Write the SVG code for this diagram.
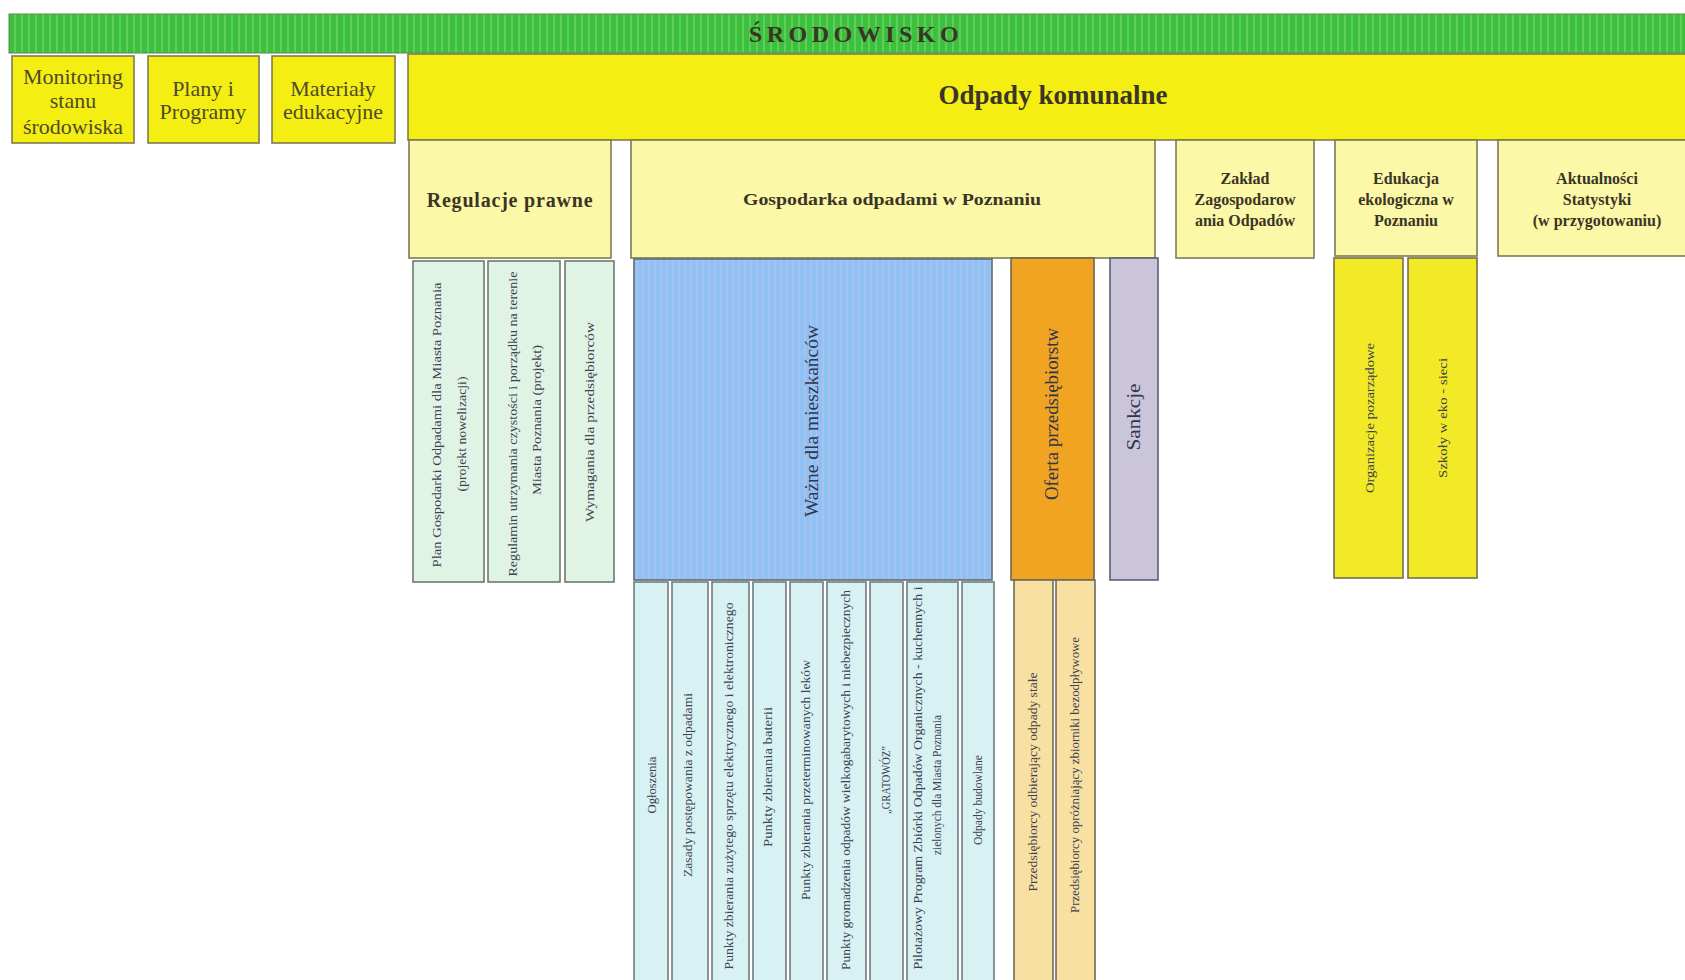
<svg xmlns="http://www.w3.org/2000/svg" width="1685" height="980" viewBox="0 0 1685 980">
<defs>
<pattern id="grn" width="7" height="40" patternUnits="userSpaceOnUse">
<rect width="7" height="40" fill="#3dc03d"/>
<rect x="0" width="2" height="40" fill="#5ecf5a"/>
</pattern>
<pattern id="blu" width="6" height="40" patternUnits="userSpaceOnUse">
<rect width="6" height="40" fill="#90c1f2"/>
<rect x="0" width="2" height="40" fill="#a6c2f0"/>
</pattern>
<style>
.y1{fill:#f4ee12;stroke:#7d7a55;stroke-width:1.6}
.y2{fill:#fbf8a8;stroke:#7d7a55;stroke-width:1.6}
.mint{fill:#e0f4e6;stroke:#6e7a70;stroke-width:1.6}
.cyan{fill:#d8f1f3;stroke:#707c80;stroke-width:1.6}
.or{fill:#f1a422;stroke:#6f6650;stroke-width:1.6}
.por{fill:#f8e0a2;stroke:#6f6a5a;stroke-width:1.6}
.lav{fill:#cbc5db;stroke:#5e6070;stroke-width:1.6}
.ye{fill:#f2ea26;stroke:#77704a;stroke-width:1.6}
.bl{fill:url(#blu);stroke:#5f6d70;stroke-width:1.6}
text{font-family:"Liberation Serif","Times New Roman",serif}
.h1{font-size:22px;fill:#4f4a2a;text-anchor:middle}
.hb{font-weight:bold;fill:#3a3525;text-anchor:middle}
.v{font-size:12px;fill:#3c4250;text-anchor:middle}
.vm{font-size:19px;fill:#2f3550;text-anchor:middle}
</style>
</defs>
<rect width="1685" height="980" fill="#ffffff"/>

<g id="srodowisko">
<rect x="9" y="14" width="1680" height="39" fill="url(#grn)" stroke="#5a8a4a" stroke-width="1"/>
<text x="856" y="42" class="hb" font-size="24" letter-spacing="4.5" fill="#3a3a3a">ŚRODOWISKO</text>
</g>

<g id="monitoring">
<rect class="y1" x="12" y="56" width="122" height="87"/>
<text class="h1" x="73" y="84">Monitoring</text>
<text class="h1" x="73" y="108">stanu</text>
<text class="h1" x="73" y="134">środowiska</text>
</g>
<g id="plany">
<rect class="y1" x="148" y="56" width="111" height="87"/>
<text class="h1" x="203" y="96">Plany i</text>
<text class="h1" x="203" y="119">Programy</text>
</g>
<g id="materialy">
<rect class="y1" x="272" y="56" width="123" height="87"/>
<text class="h1" x="333" y="96">Materiały</text>
<text class="h1" x="333" y="119">edukacyjne</text>
</g>
<g id="odpady">
<rect class="y1" x="408" y="54" width="1282" height="86" fill="#f5ef2a"/>
<text class="hb" x="1053" y="104" font-size="27">Odpady komunalne</text>
</g>

<g id="regulacje">
<rect class="y2" x="409" y="140" width="202" height="118"/>
<text class="hb" x="510" y="207" font-size="20" letter-spacing="0.8">Regulacje prawne</text>
</g>
<g id="gospodarka">
<rect class="y2" x="631" y="140" width="524" height="118"/>
<text class="hb" x="892" y="205" font-size="16" textLength="298" lengthAdjust="spacingAndGlyphs">Gospodarka odpadami w Poznaniu</text>
</g>
<g id="zaklad">
<rect class="y2" x="1176" y="140" width="138" height="118"/>
<text class="hb" x="1245" y="184" font-size="16">Zakład</text>
<text class="hb" x="1245" y="205" font-size="16">Zagospodarow</text>
<text class="hb" x="1245" y="226" font-size="16">ania Odpadów</text>
</g>
<g id="edukacja">
<rect class="y2" x="1335" y="140" width="142" height="116"/>
<text class="hb" x="1406" y="184" font-size="16">Edukacja</text>
<text class="hb" x="1406" y="205" font-size="16">ekologiczna w</text>
<text class="hb" x="1406" y="226" font-size="16">Poznaniu</text>
</g>
<g id="aktualnosci">
<rect class="y2" x="1498" y="140" width="192" height="116"/>
<text class="hb" x="1597" y="184" font-size="16">Aktualności</text>
<text class="hb" x="1597" y="205" font-size="16">Statystyki</text>
<text class="hb" x="1597" y="226" font-size="16">(w przygotowaniu)</text>
</g>

<g id="plan-gospodarki">
<rect class="mint" x="413" y="261" width="71" height="321"/>
<text class="v" transform="translate(441,425) rotate(-90)" textLength="285" lengthAdjust="spacingAndGlyphs">Plan Gospodarki Odpadami dla Miasta Poznania</text>
<text class="v" transform="translate(466,434) rotate(-90)" textLength="115" lengthAdjust="spacingAndGlyphs">(projekt nowelizacji)</text>
</g>
<g id="regulamin">
<rect class="mint" x="488" y="261" width="72" height="321"/>
<text class="v" transform="translate(517,424) rotate(-90)" textLength="305" lengthAdjust="spacingAndGlyphs">Regulamin utrzymania czystości i porządku na terenie</text>
<text class="v" transform="translate(541,420) rotate(-90)" textLength="150" lengthAdjust="spacingAndGlyphs">Miasta Poznania (projekt)</text>
</g>
<g id="wymagania">
<rect class="mint" x="565" y="261" width="49" height="321"/>
<text class="v" transform="translate(594,422) rotate(-90)" textLength="200" lengthAdjust="spacingAndGlyphs">Wymagania dla przedsiębiorców</text>
</g>

<g id="wazne">
<rect class="bl" x="634" y="259" width="358" height="321"/>
<text class="vm" transform="translate(818,421) rotate(-90)" textLength="192" lengthAdjust="spacingAndGlyphs">Ważne dla mieszkańców</text>
</g>
<g id="oferta">
<rect class="or" x="1011" y="258" width="83" height="322"/>
<text class="vm" transform="translate(1058,414) rotate(-90)" textLength="172" lengthAdjust="spacingAndGlyphs" fill="#3a3020">Oferta przedsiębiorstw</text>
</g>
<g id="sankcje">
<rect class="lav" x="1110" y="258" width="48" height="322"/>
<text class="vm" transform="translate(1140,417) rotate(-90)" textLength="67" lengthAdjust="spacingAndGlyphs">Sankcje</text>
</g>
<g id="organizacje">
<rect class="ye" x="1334" y="258" width="69" height="320"/>
<text class="v" transform="translate(1374,418) rotate(-90)" textLength="150" lengthAdjust="spacingAndGlyphs" fill="#3a3520">Organizacje pozarządowe</text>
</g>
<g id="szkoly">
<rect class="ye" x="1408" y="258" width="69" height="320"/>
<text class="v" transform="translate(1447,418) rotate(-90)" textLength="120" lengthAdjust="spacingAndGlyphs" fill="#3a3520">Szkoły w eko - sieci</text>
</g>

<g id="ogloszenia">
<rect class="cyan" x="634" y="582" width="34" height="410"/>
<text class="v" transform="translate(656,785) rotate(-90)" textLength="57" lengthAdjust="spacingAndGlyphs">Ogłoszenia</text>
</g>
<g id="zasady">
<rect class="cyan" x="672" y="582" width="36" height="410"/>
<text class="v" transform="translate(692,785) rotate(-90)" textLength="184" lengthAdjust="spacingAndGlyphs">Zasady postępowania z odpadami</text>
</g>
<g id="punkty-elektro">
<rect class="cyan" x="712" y="582" width="37" height="410"/>
<text class="v" transform="translate(733,786) rotate(-90)" textLength="367" lengthAdjust="spacingAndGlyphs">Punkty zbierania zużytego sprzętu elektrycznego i elektronicznego</text>
</g>
<g id="punkty-baterii">
<rect class="cyan" x="753" y="582" width="33" height="410"/>
<text class="v" transform="translate(772,777) rotate(-90)" textLength="140" lengthAdjust="spacingAndGlyphs">Punkty zbierania baterii</text>
</g>
<g id="punkty-lekow">
<rect class="cyan" x="790" y="582" width="33" height="410"/>
<text class="v" transform="translate(810,780) rotate(-90)" textLength="240" lengthAdjust="spacingAndGlyphs">Punkty zbierania przeterminowanych leków</text>
</g>
<g id="punkty-gromadzenia">
<rect class="cyan" x="827" y="582" width="39" height="410"/>
<text class="v" transform="translate(850,780) rotate(-90)" textLength="380" lengthAdjust="spacingAndGlyphs">Punkty gromadzenia odpadów wielkogabarytowych i niebezpiecznych</text>
</g>
<g id="gratowoz">
<rect class="cyan" x="870" y="582" width="33" height="410"/>
<text class="v" transform="translate(890,780) rotate(-90)" textLength="68" lengthAdjust="spacingAndGlyphs">„GRATOWÓZ”</text>
</g>
<g id="pilotazowy">
<rect class="cyan" x="907" y="582" width="51" height="410"/>
<text class="v" transform="translate(922,778) rotate(-90)" textLength="383" lengthAdjust="spacingAndGlyphs">Pilotażowy Program Zbiórki Odpadów Organicznych - kuchennych i</text>
<text class="v" transform="translate(941,785) rotate(-90)" textLength="140" lengthAdjust="spacingAndGlyphs">zielonych dla Miasta Poznania</text>
</g>
<g id="budowlane">
<rect class="cyan" x="962" y="582" width="32" height="410"/>
<text class="v" transform="translate(982,800) rotate(-90)" textLength="90" lengthAdjust="spacingAndGlyphs">Odpady budowlane</text>
</g>

<g id="odbierajacy">
<rect class="por" x="1014" y="580" width="39" height="412"/>
<text class="v" transform="translate(1037,782) rotate(-90)" textLength="219" lengthAdjust="spacingAndGlyphs" fill="#3a3520">Przedsiębiorcy odbierający odpady stałe</text>
</g>
<g id="oprozniajacy">
<rect class="por" x="1056" y="580" width="39" height="412"/>
<text class="v" transform="translate(1079,775) rotate(-90)" textLength="276" lengthAdjust="spacingAndGlyphs" fill="#3a3520">Przedsiębiorcy opróżniający zbiorniki bezodpływowe</text>
</g>

<g id="connectors"></g>
</svg>
